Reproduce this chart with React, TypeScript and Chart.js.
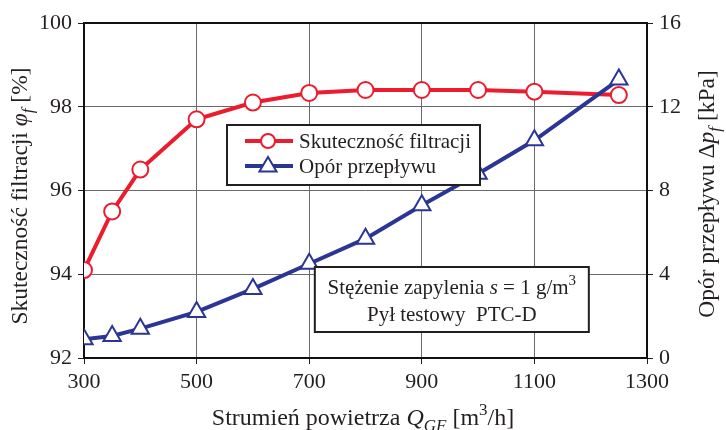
import React, { useEffect, useRef } from "react";
import { Chart, registerables } from "chart.js";

Chart.register(...registerables);

const flowRates = [300, 350, 400, 500, 600, 700, 800, 900, 1000, 1100, 1250];
const efficiency = [94.1, 95.5, 96.5, 97.7, 98.1, 98.33, 98.4, 98.4, 98.4, 98.36, 98.28];
const pressureDrop = [0.9, 1.05, 1.4, 2.2, 3.3, 4.5, 5.7, 7.3, 8.8, 10.4, 13.3];

const seriesNames = ["Skuteczność filtracji", "Opór przepływu"];
const noteLine2 = "Pył testowy  PTC-D";

const RED = "#ec1c2e";
const BLUE = "#2b3595";
const FONT = '"Liberation Serif", "DejaVu Serif", serif';

type Seg = { t: string; i?: boolean; sub?: boolean; sup?: boolean };

function segFont(s: Seg, size: number) {
  const sz = s.sub || s.sup ? Math.round(size * 0.72) : size;
  return `${s.i ? "italic " : ""}${sz}px ${FONT}`;
}

function drawRich(ctx: CanvasRenderingContext2D, segs: Seg[], cx: number, baseline: number, size: number) {
  let total = 0;
  for (const s of segs) {
    ctx.font = segFont(s, size);
    total += ctx.measureText(s.t).width;
  }
  let x = cx - total / 2;
  ctx.textAlign = "left";
  ctx.textBaseline = "alphabetic";
  for (const s of segs) {
    ctx.font = segFont(s, size);
    const dy = s.sub ? size * 0.25 : s.sup ? -size * 0.42 : 0;
    ctx.fillText(s.t, x, baseline + dy);
    x += ctx.measureText(s.t).width;
  }
}

const decorPlugin = {
  id: "decor",
  beforeDatasetsDraw(chart: any) {
    const { ctx, chartArea: a } = chart;
    ctx.save();
    ctx.strokeStyle = "#111";
    ctx.lineWidth = 2;
    ctx.strokeRect(a.left, a.top, a.right - a.left, a.bottom - a.top);
    ctx.restore();
  },
  afterDraw(chart: any) {
    const { ctx, chartArea: a, scales } = chart;
    const sx = scales.x;
    ctx.save();
    ctx.fillStyle = "#231f20";

    // axis titles
    drawRich(
      ctx,
      [{ t: "Strumień powietrza " }, { t: "Q", i: true }, { t: "GF", i: true, sub: true }, { t: " [m" }, { t: "3", sup: true }, { t: "/h]" }],
      363,
      425,
      24
    );
    ctx.save();
    ctx.translate(27, 196);
    ctx.rotate(-Math.PI / 2);
    drawRich(ctx, [{ t: "Skuteczność filtracji " }, { t: "φ", i: true }, { t: "f", i: true, sub: true }, { t: " [%]" }], 0, 0, 23.5);
    ctx.restore();
    ctx.save();
    ctx.translate(714, 194);
    ctx.rotate(-Math.PI / 2);
    drawRich(ctx, [{ t: "Opór przepływu Δ" }, { t: "p", i: true }, { t: "f", i: true, sub: true }, { t: " [kPa]" }], 0, 0, 23.5);
    ctx.restore();

    // legend box
    const lx = sx.getPixelForValue(554), ly = 125, lw = 253, lh = 60;
    ctx.fillStyle = "#fff";
    ctx.fillRect(lx, ly, lw, lh);
    ctx.strokeStyle = "#231f20";
    ctx.lineWidth = 2;
    ctx.strokeRect(lx, ly, lw, lh);
    const rows = [
      { y: ly + 16, color: RED, style: "circle" },
      { y: ly + 41, color: BLUE, style: "triangle" },
    ];
    rows.forEach((r, k) => {
      ctx.strokeStyle = r.color;
      ctx.lineWidth = 4;
      ctx.beginPath();
      ctx.moveTo(lx + 18, r.y);
      ctx.lineTo(lx + 66, r.y);
      ctx.stroke();
      ctx.fillStyle = "#fff";
      ctx.lineWidth = 2;
      ctx.beginPath();
      if (r.style === "circle") {
        ctx.arc(lx + 41, r.y, 7, 0, Math.PI * 2);
      } else {
        const rr = 9;
        ctx.moveTo(lx + 41, r.y - rr);
        ctx.lineTo(lx + 41 + rr * 0.95, r.y + rr * 0.6);
        ctx.lineTo(lx + 41 - rr * 0.95, r.y + rr * 0.6);
        ctx.closePath();
      }
      ctx.fill();
      ctx.stroke();
      ctx.fillStyle = "#231f20";
      ctx.font = `21px ${FONT}`;
      ctx.textAlign = "left";
      ctx.textBaseline = "middle";
      ctx.fillText(seriesNames[k], lx + 72, r.y + 1);
    });

    // note box
    const nx = sx.getPixelForValue(710), ny = 267, nw = 274, nh = 65;
    ctx.fillStyle = "#fff";
    ctx.fillRect(nx, ny, nw, nh);
    ctx.strokeStyle = "#231f20";
    ctx.lineWidth = 2;
    ctx.strokeRect(nx, ny, nw, nh);
    ctx.fillStyle = "#231f20";
    drawRich(ctx, [{ t: "Stężenie zapylenia " }, { t: "s", i: true }, { t: " = 1 g/m" }, { t: "3", sup: true }], nx + nw / 2, ny + 27, 21);
    drawRich(ctx, [{ t: noteLine2 }], nx + nw / 2, ny + 54, 21);
    ctx.restore();
  },
};

export default function App() {
  const ref = useRef<HTMLCanvasElement | null>(null);
  useEffect(() => {
    document.body.style.margin = "0";
    if (!ref.current) return;
    const tickFont = { family: FONT, size: 22 };
    const plain = (v: any) => String(v);
    const chart = new Chart(ref.current, {
      type: "line",
      data: {
        datasets: [
          {
            label: seriesNames[1],
            data: flowRates.map((x, i) => ({ x, y: pressureDrop[i] })),
            yAxisID: "y1",
            borderColor: BLUE,
            borderWidth: 4,
            pointStyle: "triangle",
            pointRadius: 10,
            pointBorderWidth: 2,
            pointBackgroundColor: "#fff",
            pointBorderColor: BLUE,
            tension: 0,
          },
          {
            label: seriesNames[0],
            data: flowRates.map((x, i) => ({ x, y: efficiency[i] })),
            yAxisID: "y",
            borderColor: RED,
            borderWidth: 4,
            pointStyle: "circle",
            pointRadius: 8,
            pointBorderWidth: 2,
            pointBackgroundColor: "#fff",
            pointBorderColor: RED,
            tension: 0,
          },
        ],
      },
      options: {
        animation: false,
        responsive: false,
        layout: { padding: { top: 23, left: 0, right: 0, bottom: 0 } },
        plugins: { legend: { display: false }, tooltip: { enabled: false } },
        scales: {
          x: {
            type: "linear",
            min: 300,
            max: 1300,
            afterFit: (s: any) => { s.height = 72; },
            ticks: { stepSize: 200, font: tickFont, color: "#231f20", padding: 5, maxRotation: 0, callback: plain },
            grid: { color: "#6b6b6b", lineWidth: 1, tickLength: 6, tickColor: "#231f20" },
            border: { display: false },
          },
          y: {
            position: "left",
            min: 92,
            max: 100,
            afterFit: (s: any) => { s.width = 84; },
            ticks: { stepSize: 2, font: tickFont, color: "#231f20", padding: 6, callback: plain },
            grid: { color: "#6b6b6b", lineWidth: 1, tickLength: 6, tickColor: "#231f20" },
            border: { display: false },
          },
          y1: {
            position: "right",
            min: 0,
            max: 16,
            afterFit: (s: any) => { s.width = 79; },
            ticks: { stepSize: 4, font: tickFont, color: "#231f20", padding: 6, callback: plain },
            grid: { drawOnChartArea: false, tickLength: 6, tickColor: "#231f20", color: "#231f20" },
            border: { display: false },
          },
        },
      },
      plugins: [decorPlugin],
    } as any);
    return () => chart.destroy();
  }, []);
  return (
    <div style={{ width: 726, height: 430 }}>
      <canvas ref={ref} width={726} height={430} style={{ display: "block" }} />
    </div>
  );
}
